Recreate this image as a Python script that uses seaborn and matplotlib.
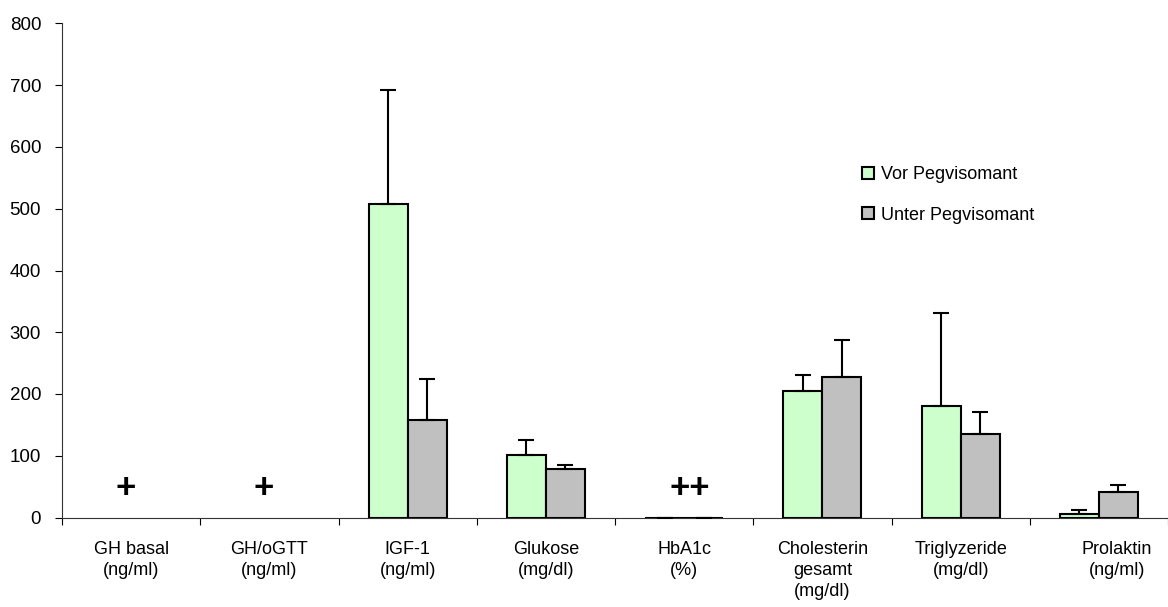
import numpy as np
import pandas as pd
import matplotlib.pyplot as plt
import matplotlib.transforms as mtransforms
import seaborn as sns

plt.rcParams['font.family'] = ['Liberation Sans', 'DejaVu Sans']

# Daten
categories = ['GH basal\n(ng/ml)', 'GH/oGTT\n(ng/ml)', 'IGF-1\n(ng/ml)', 'Glukose\n(mg/dl)',
              'HbA1c\n(%)', 'Cholesterin\ngesamt\n(mg/dl)', 'Triglyzeride\n(mg/dl)', 'Prolaktin\n(ng/ml)']
groups = ['Vor Pegvisomant', 'Unter Pegvisomant']
vor = [np.nan, np.nan, 507, 102, 0, 205, 181, 6]
vor_err = [np.nan, np.nan, 185, 24, 0, 25, 150, 6]
unter = [np.nan, np.nan, 158, 79, 0, 228, 135, 42]
unter_err = [np.nan, np.nan, 66, 6, 0, 60, 36, 10]
marks = ['+', '+', '', '', '++', '', '', '']
mark_y = 47
colors = ['#ccffcc', '#c0c0c0']

df = pd.DataFrame({
    'Parameter': categories * 2,
    'Gruppe': [groups[0]] * len(categories) + [groups[1]] * len(categories),
    'Wert': vor + unter,
})

fig = plt.figure(figsize=(11.68, 6.07), dpi=100)
ax = fig.add_axes([62 / 1168, 89.5 / 607, 1 - 62 / 1168, 494 / 607])

bw = 0.565
sns.barplot(data=df, x='Parameter', y='Wert', hue='Gruppe', order=categories, hue_order=groups,
            palette=colors, width=bw, edgecolor='black', linewidth=1.5, saturation=1, ax=ax)

# Fehlerbalken nur nach oben
x = np.arange(len(categories))
for off, vals, errs in [(-bw / 4, vor, vor_err), (bw / 4, unter, unter_err)]:
    errs = np.array(errs, dtype=float)
    ax.errorbar(x + off, vals, yerr=[np.zeros_like(errs), errs], fmt='none', ecolor='black',
                elinewidth=1.5, capsize=6, capthick=1.5, zorder=5)

for i, m in enumerate(marks):
    if m:
        dx = -0.04 if m == '+' else 0.04
        ax.text(i + dx, mark_y, m, ha='center', va='center', fontsize=25, fontweight='bold')

ax.set_ylim(0, 800)
ax.set_xlim(-0.5, len(categories) - 0.5)
ax.set_yticks(range(0, 801, 100))
ax.set_xlabel('')
ax.set_ylabel('')
ax.tick_params(axis='y', labelsize=13.5, length=5, width=0.8, direction='out', pad=10)
ax.tick_params(axis='x', labelsize=13, length=0, pad=17)
ax.set_xticks(np.arange(-0.5, len(categories)), minor=True)
ax.tick_params(axis='x', which='minor', length=5, width=0.8, direction='out')
for lbl in ax.get_xticklabels():
    lbl.set_linespacing(1.3)
    lbl.set_va('top')
# Prolaktin-Beschriftung etwas nach rechts versetzt
last = ax.get_xticklabels()[-1]
last.set_transform(last.get_transform() + mtransforms.ScaledTranslation(0.18, 0, fig.dpi_scale_trans))

sns.despine(ax=ax)
for s in ['left', 'bottom']:
    ax.spines[s].set_linewidth(0.8)
    ax.spines[s].set_color('#333333')

handles, labels = ax.get_legend_handles_labels()
ax.legend(handles[:2], labels[:2], loc='upper left', bbox_to_anchor=(846 / 1168, 1 - 150 / 607),
          bbox_transform=fig.transFigure, frameon=False, fontsize=13, handlelength=0.65,
          handleheight=0.65, handletextpad=0.4, labelspacing=1.3)

fig.savefig('out.png', dpi=100)
